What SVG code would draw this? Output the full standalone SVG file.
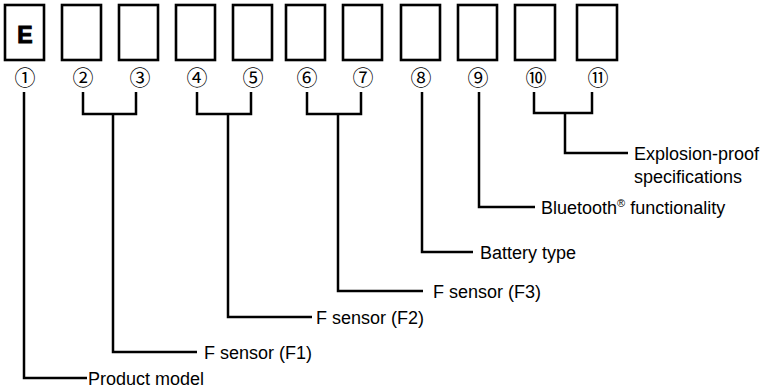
<svg xmlns="http://www.w3.org/2000/svg" width="767" height="392" viewBox="0 0 767 392">
<style>
.box{fill:#fff;stroke:#000;stroke-width:2.6}
.num{font-family:"Noto Sans CJK JP","DejaVu Sans",sans-serif;font-size:21px;text-anchor:middle;fill:#000}
.lbl{font-family:"Liberation Sans",Arial,sans-serif;font-size:18px;fill:#000}
.ln{fill:none;stroke:#000;stroke-width:2.5}
</style>
<rect width="767" height="392" fill="#fff"/>
<g id="d1"><rect class="box" x="5" y="5" width="39" height="55"/><text x="25" y="43" text-anchor="middle" font-family="'Liberation Sans',Arial,sans-serif" font-weight="bold" font-size="23" stroke="#000" stroke-width="1">E</text><text class="num" x="25" y="84.5">①</text></g>
<g id="d2"><rect class="box" x="62" y="5" width="39" height="55"/><text class="num" x="83" y="84.5">②</text></g>
<g id="d3"><rect class="box" x="119" y="5" width="39" height="55"/><text class="num" x="140" y="84.5">③</text></g>
<g id="d4"><rect class="box" x="176" y="5" width="39" height="55"/><text class="num" x="197" y="84.5">④</text></g>
<g id="d5"><rect class="box" x="233" y="5" width="39" height="55"/><text class="num" x="253" y="84.5">⑤</text></g>
<g id="d6"><rect class="box" x="286" y="5" width="39" height="55"/><text class="num" x="307" y="84.5">⑥</text></g>
<g id="d7"><rect class="box" x="343" y="5" width="39" height="55"/><text class="num" x="363" y="84.5">⑦</text></g>
<g id="d8"><rect class="box" x="401" y="5" width="39" height="55"/><text class="num" x="421" y="84.5">⑧</text></g>
<g id="d9"><rect class="box" x="458" y="5" width="39" height="55"/><text class="num" x="478" y="84.5">⑨</text></g>
<g id="d10"><rect class="box" x="515" y="5" width="40" height="55"/><text class="num" x="536" y="84.5">⑩</text></g>
<g id="d11"><rect class="box" x="577" y="5" width="40" height="55"/><text class="num" x="598" y="84.5">⑪</text></g>
<g id="connectors">
<path class="ln" d="M24,92 V378 H87"/>
<path class="ln" d="M83,92 V114 H136 V92 M113,114 V352 H197"/>
<path class="ln" d="M197,92 V114 H251 V92 M228,114 V317 H312"/>
<path class="ln" d="M307,92 V114 H361 V92 M338,114 V291 H423"/>
<path class="ln" d="M422,92 V252 H473"/>
<path class="ln" d="M479,92 V207 H535"/>
<path class="ln" d="M534,92 V113 H592 V92 M565,113 V153 H628"/>
</g>
<g id="labels">
<text class="lbl" x="88" y="385">Product model</text>
<text class="lbl" x="204" y="359">F sensor (F1)</text>
<text class="lbl" x="316" y="324">F sensor (F2)</text>
<text class="lbl" x="433" y="298">F sensor (F3)</text>
<text class="lbl" x="480" y="259">Battery type</text>
<text class="lbl" x="541" y="214">Bluetooth<tspan font-size="11" dy="-7">®</tspan><tspan dy="7"> functionality</tspan></text>
<text class="lbl" x="634" y="160">Explosion-proof</text>
<text class="lbl" x="634" y="183">specifications</text>
</g>
</svg>
